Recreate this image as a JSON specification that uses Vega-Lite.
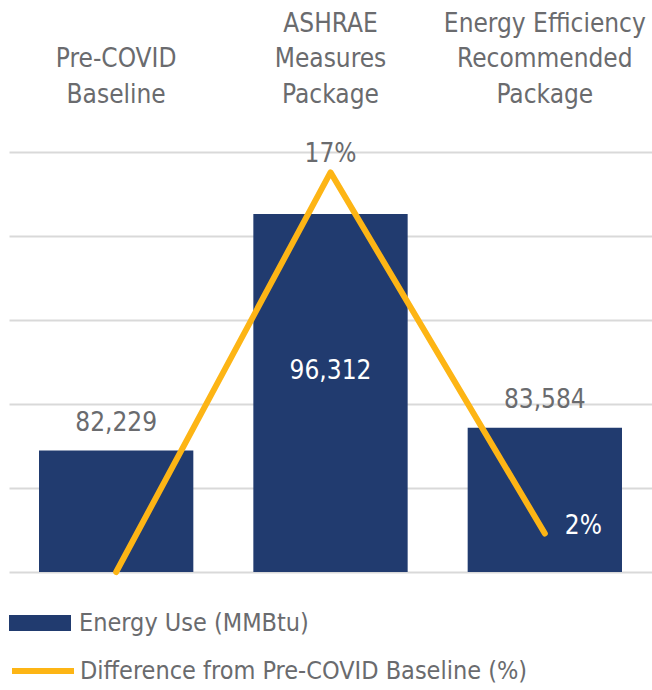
{
  "$schema": "https://vega.github.io/schema/vega-lite/v6.json",
  "width": 643,
  "height": 420,
  "autosize": {"type": "none"},
  "padding": {"left": 9, "top": 152, "right": 0, "bottom": 118},
  "background": "white",
  "config": {
    "view": {"stroke": null},
    "font": "DejaVu Sans Condensed, Roboto",
    "text": {"font": "DejaVu Sans Condensed, Roboto"}
  },
  "data": {
    "values": [
      {"category": "Pre-COVID|Baseline", "energy": 82229, "pct": 0},
      {"category": "ASHRAE|Measures|Package", "energy": 96312, "pct": 0.1713},
      {"category": "Energy Efficiency|Recommended|Package", "energy": 83584, "pct": 0.0165}
    ]
  },
  "encoding": {
    "x": {
      "field": "category",
      "type": "nominal",
      "sort": null,
      "scale": {"paddingInner": 0, "paddingOuter": 0},
      "axis": {
        "orient": "top",
        "title": null,
        "labelExpr": "split(length(split(datum.label, '|')) < 3 ? '|' + datum.label : datum.label, '|')",
        "labelAngle": 0,
        "labelFont": "DejaVu Sans Condensed, Roboto",
        "labelFontSize": 26,
        "labelColor": "#6A6B6E",
        "labelLineHeight": 35.5,
        "labelBaseline": "top",
        "labelPadding": 142,
        "labelLimit": 300,
        "ticks": false,
        "domain": false,
        "grid": false
      }
    }
  },
  "layer": [
    {
      "encoding": {
        "y": {
          "field": "energy",
          "type": "quantitative",
          "scale": {"domain": [75000, 100000], "zero": false, "nice": false},
          "axis": {
            "title": null,
            "labels": false,
            "ticks": false,
            "domain": false,
            "grid": true,
            "gridColor": "#D9D9D9",
            "gridWidth": 2,
            "values": [75000, 80000, 85000, 90000, 95000, 100000]
          }
        }
      },
      "layer": [
        {
          "mark": {"type": "bar", "width": {"band": 0.72}},
          "encoding": {
            "y2": {"datum": 75000},
            "fill": {
              "datum": "Energy Use (MMBtu)",
              "scale": {"range": ["#213B6F"]},
              "legend": {
                "orient": "none",
                "legendX": 0,
                "legendY": 440,
                "title": null,
                "symbolType": "M-1,-0.26H1V0.26H-1Z",
                "symbolSize": 3844,
                "symbolStrokeWidth": 0,
                "labelFont": "DejaVu Sans Condensed, Roboto",
                "labelFontSize": 25,
                "labelColor": "#6A6B6E",
                "labelOffset": 8,
                "labelLimit": 600
              }
            }
          }
        },
        {
          "transform": [{"filter": "datum.energy < 90000"}],
          "mark": {"type": "text", "fontSize": 26, "color": "#6A6B6E", "baseline": "alphabetic", "dy": -20},
          "encoding": {"text": {"field": "energy", "type": "quantitative", "format": ","}}
        },
        {
          "transform": [{"filter": "datum.energy >= 90000"}],
          "mark": {"type": "text", "fontSize": 26, "color": "white", "baseline": "alphabetic", "dy": 165},
          "encoding": {"text": {"field": "energy", "type": "quantitative", "format": ","}}
        }
      ]
    },
    {
      "encoding": {
        "y": {
          "field": "pct",
          "type": "quantitative",
          "scale": {"domain": [0, 0.18], "nice": false},
          "axis": null
        }
      },
      "layer": [
        {
          "mark": {"type": "line", "strokeWidth": 6, "strokeCap": "round", "strokeJoin": "round"},
          "encoding": {
            "stroke": {
              "datum": "Difference from Pre-COVID Baseline (%)",
              "scale": {"range": ["#FDB515"]},
              "legend": {
                "orient": "none",
                "legendX": 0,
                "legendY": 485,
                "title": null,
                "symbolType": "stroke",
                "symbolSize": 3844,
                "symbolStrokeWidth": 6,
                "labelFont": "DejaVu Sans Condensed, Roboto",
                "labelFontSize": 25,
                "labelColor": "#6A6B6E",
                "labelOffset": 3,
                "labelLimit": 600
              }
            }
          }
        },
        {
          "transform": [{"filter": "datum.pct > 0.1"}],
          "mark": {"type": "text", "fontSize": 26, "color": "#6A6B6E", "baseline": "alphabetic", "dy": -10},
          "encoding": {"text": {"field": "pct", "type": "quantitative", "format": ".0%"}}
        },
        {
          "transform": [{"filter": "datum.pct > 0.01 && datum.pct < 0.1"}],
          "mark": {"type": "text", "fontSize": 26, "color": "white", "baseline": "alphabetic", "align": "left", "dx": 20, "dy": 0},
          "encoding": {"text": {"field": "pct", "type": "quantitative", "format": ".0%"}}
        }
      ]
    }
  ],
  "resolve": {"scale": {"y": "independent"}}
}
